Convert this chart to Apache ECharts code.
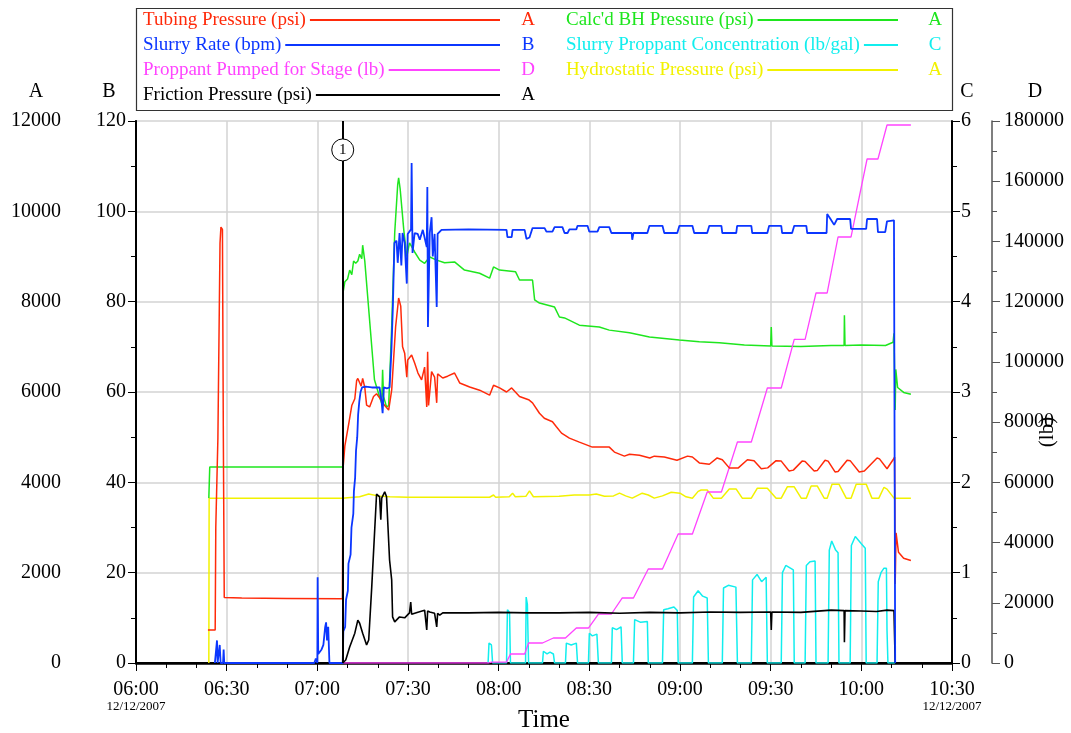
<!DOCTYPE html>
<html>
<head>
<meta charset="utf-8">
<script src="https://cdn.jsdelivr.net/npm/echarts@6/dist/echarts.min.js"></script>
<style>
html,body{margin:0;padding:0;background:#fff;}
#chart{width:1071px;height:733px;}
</style>
</head>
<body>
<div id="chart"></div>
<script>
// Time values are minutes after 06:00 on 12/12/2007
const xTickMinutes = [0, 30, 60, 90, 120, 150, 180, 210, 240, 270];
const dateLabel = '12/12/2007';

// Tubing Pressure (psi) – axis A
const tubingPressure = [
 [23.8,730],[26.2,730],[26.4,3000],[26.8,3000],[27.1,4980],[27.4,5000],[27.8,9300],[28.1,9650],[28.6,9600],[28.9,5000],[29.2,1450],
 [35,1440],[50,1430],[68.3,1420],[68.5,4300],[69.1,4800],[70.4,5300],[71.4,5700],[72.4,5850],[73.0,6250],[73.4,6300],[74.0,6290],
 [74.5,6130],[75.0,6300],[75.7,6100],[76.3,5710],[77.3,5670],[78.6,5900],[79.6,5960],[80.6,5870],[82.3,5700],[83.6,5600],[84.6,6040],
 [85.9,7440],[86.9,8080],[87.6,7900],[88.2,7000],[88.9,6860],[89.6,6330],[89.9,6710],[91.2,6820],[92.2,6640],[93.3,6420],[94.5,6270],
 [95.5,6550],[96.2,5670],[96.5,6890],[96.8,5700],[97.8,6450],[98.8,6330],[99.5,5760],[99.8,6400],[101.5,6310],[103.1,6350],[105.4,6420],
 [107.1,6200],[110.4,6110],[113.7,6040],[117.0,5930],[118.3,6150],[120.3,6090],[122.6,6000],[124.3,6090],[126.9,5900],[129.9,5830],
 [131.2,5760],[133.5,5530],[135.1,5420],[137.8,5340],[139.1,5230],[140.8,5090],[143.4,4980],[146.7,4890],[151.0,4780],[156.6,4780],
 [158.3,4670],[161.6,4580],[163.3,4620],[166.6,4600],[170.0,4540],[171.5,4580],[174.8,4560],[179.0,4490],[182.5,4580],[184.1,4560],
 [186.4,4430],[189.7,4400],[192.3,4540],[194.0,4500],[196.3,4320],[199.3,4320],[202.3,4500],[204.5,4480],[206.9,4300],[209.0,4320],
 [211.8,4480],[213.5,4470],[216.1,4250],[217.5,4270],[220.4,4470],[221.4,4460],[224.4,4250],[225.4,4260],[228.0,4490],[229.0,4470],
 [231.3,4230],[232.3,4240],[235.3,4490],[236.3,4480],[239.3,4230],[241.0,4250],[245.2,4540],[246.0,4520],[248.5,4300],[250.5,4500],
 [251.0,4560],[251.2,1750],[251.5,2880],[252.3,2450],[254.0,2320],[256.4,2270]
];

// Slurry Rate (bpm) – axis B
const slurryRate = [
 [26.1,0],[26.8,5],[27.0,0],[27.4,0],[27.7,4],[28.0,0],[28.8,0],[29.0,3],[29.2,0],[59.0,0],[59.5,1],[60.0,0],[60.1,19],[60.3,2],
 [60.8,2],[61.4,3],[62.0,4],[62.6,8],[62.9,9],[63.2,5],[63.6,8],[64.0,0],[68.4,0],[68.6,7],[69.2,8],[69.5,14],[70.1,16],[70.3,22],
 [71.0,24],[71.3,30],[71.9,33],[72.1,38],[72.5,41],[72.8,47],[73.2,50],[73.5,55],[73.9,58],[74.3,60],[74.8,61],[76,61.2],[78,61],
 [80.6,61],[81.3,57.6],[81.6,55.3],[82.0,61],[83,60.8],[83.9,61],[84.5,69],[85.0,79],[85.5,93],[86.2,93.5],[86.6,88.6],[87.2,95.2],
 [87.8,88],[88.2,95.2],[88.9,93],[89.6,84],[89.9,95],[91.0,96],[91.2,110.7],[91.5,90.8],[92.2,95.2],[93.2,95],[93.9,93.7],[94.9,95.9],
 [96.2,92.1],[96.4,105.4],[96.6,74.4],[97.2,95.2],[97.8,98.7],[98.2,90],[98.8,95],[99.5,78.8],[99.8,95],[101.1,95.9],[110,96],
 [122.6,95.9],[122.9,94.3],[124.3,94.3],[124.6,95.9],[128.6,95.9],[129.2,93.9],[130.2,94.2],[131.2,96.3],[135.2,96.3],[135.8,95.5],
 [137.8,95.5],[138.5,96.5],[141.1,96.5],[141.8,95.2],[142.8,95.2],[143.4,96.0],[145.7,96.0],[146.1,96.8],[149.4,96.8],[150.0,95.5],
 [152.7,95.5],[153.3,96.5],[156.6,96.5],[157.3,95.2],[164.0,95.2],[164.2,93.7],[164.6,95.2],[169.2,95.2],[169.9,96.8],[174.2,96.8],
 [174.8,95.2],[179.1,95.2],[179.8,96.8],[184.1,96.8],[184.7,95.2],[189.0,95.2],[189.7,96.8],[193.7,96.8],[194.0,95.2],[198.6,95.2],
 [198.9,96.8],[203.6,96.8],[203.9,95.2],[208.9,95.2],[209.5,96.8],[213.5,96.8],[213.8,95.2],[217.1,95.2],[217.8,96.8],[221.8,96.8],
 [222.1,95.2],[228.5,95.2],[228.7,99.4],[229.8,98.3],[231.0,97.0],[232.0,98.3],[236.3,98.3],[236.6,96.1],[241.6,96.1],[241.9,98.3],
 [245.2,98.3],[245.5,95.4],[247.9,95.4],[248.5,97.8],[250.8,98.0],[251.2,0]
];

// Proppant Pumped for Stage (lb) – axis D
const proppantPumped = [
 [68.4,0],[116.7,0],[117.6,300],[122.6,300],[123.9,2990],[128.6,2990],[129.9,6640],[134.5,6640],[138.1,8300],[142.1,8300],
 [145.7,11620],[149.7,11620],[153.0,16270],[157.3,16270],[160.9,21590],[164.6,21590],[169.5,31220],[174.2,31220],[179.4,42840],
 [184.1,42840],[189.0,56790],[193.7,56790],[199.0,73400],[203.6,73400],[208.9,91330],[213.5,91330],[217.8,107500],[221.4,107500],
 [225.0,122880],[228.7,122880],[232.3,141480],[236.6,141480],[241.9,167380],[245.5,167380],[248.5,178670],[256.4,178670]
];

// Friction Pressure (psi) – axis A
const frictionPressure = [
 [68.4,0],[69.4,66],[70.7,354],[72.4,660],[73.4,950],[74.0,880],[75.0,660],[76.3,400],[77.0,510],[78.0,1680],[79.6,3740],[80.6,3680],
 [81.0,3170],[81.3,3650],[82.3,3790],[82.9,3680],[83.9,2280],[84.6,1840],[84.9,1020],[85.6,910],[87.2,1020],[88.9,1000],[90.5,1110],
 [90.9,1350],[91.2,1080],[93,1120],[95.5,1170],[96.2,730],[96.5,1150],[97.2,1130],[98.8,1100],[99.5,800],[99.8,1100],[100.5,1060],
 [101.5,1110],[110,1110],[120,1120],[130,1110],[140,1110],[150,1120],[160,1100],[170,1120],[180,1110],[190,1130],[200,1120],[210,1130],
 [210.2,730],[210.4,1130],[220,1120],[230,1170],[234.3,1160],[234.4,460],[234.6,1160],[240,1150],[245,1140],[248.5,1170],[250.8,1160],
 [251.2,0]
];

// Calc'd BH Pressure (psi) – axis A
const bhPressure = [
 [24.1,3650],[24.4,4340],[68.4,4340],[68.5,8200],[69.1,8440],[70.0,8500],[70.7,8700],[71.4,8600],[72.0,8900],[72.7,8850],[73.4,8900],
 [74.0,9050],[74.7,8950],[75.0,9250],[75.7,8900],[76.3,8920],[78.9,6270],[80.6,5890],[81.3,5750],[81.6,6490],[81.9,5900],[82.9,5670],
 [83.6,5700],[84.6,7440],[85.6,9520],[86.6,10600],[86.9,10740],[87.4,10500],[88.6,9590],[89.6,9000],[90.5,9300],[92.2,9100],[93.9,8920],
 [95.5,8850],[97.2,8990],[99.5,8920],[102.1,8860],[105.4,8880],[108.7,8700],[113.7,8630],[117,8520],[118.3,8770],[120.3,8700],
 [125.6,8660],[126.9,8480],[131.2,8480],[131.9,8040],[133.5,7970],[138.5,7880],[140.1,7660],[141.8,7640],[146.7,7480],[153.3,7440],
 [156.6,7370],[163.3,7310],[169.9,7220],[179.8,7150],[186.4,7110],[193,7090],[201.3,7040],[210,7020],[210.2,7440],[210.4,7020],
 [220,7010],[230,7030],[234.3,7030],[234.4,7700],[234.6,7030],[240,7040],[248,7030],[250.5,7100],[250.8,7300],[251.2,5600],
 [251.4,6500],[252,6100],[254,5990],[256.4,5950]
];

// Slurry Proppant Concentration (lb/gal) – axis C
const slurryConc = [
 [116.5,0],[116.8,0.22],[117.6,0.2],[118.0,0],[122.6,0],[122.9,0.59],[123.6,0.56],[123.9,0],[128.9,0],[129.1,0.73],[129.5,0.65],[129.9,0],
 [134.5,0],[134.8,0.13],[136,0.1],[137,0.12],[138.1,0.1],[138.5,0],[142.1,0],[142.4,0.22],[144,0.2],[145.7,0.22],[146.1,0],
 [149.7,0],[150.0,0.33],[151,0.3],[152.5,0.32],[153.0,0],[157.3,0],[157.6,0.39],[159,0.37],[160.5,0.4],[160.9,0],
 [164.6,0],[165,0.48],[167,0.45],[169.2,0.46],[169.5,0],[174.2,0],[174.6,0.59],[176,0.6],[178,0.62],[179.1,0.58],[179.4,0],
 [184.1,0],[184.5,0.73],[186,0.8],[187.5,0.74],[189,0.72],[189.4,0],[194,0],[194.4,0.83],[196,0.86],[198.5,0.84],[199,0],
 [203.6,0],[204,0.92],[205.5,0.98],[207,0.9],[208.5,0.95],[208.9,0],[213.5,0],[213.9,1.0],[215,1.08],[217.5,1.03],[217.8,0],
 [221.4,0],[221.8,1.08],[223,1.12],[224.7,1.13],[225.0,0],[229,0],[229.4,1.25],[230.2,1.35],[231.5,1.25],[232.3,1.22],[232.6,0],
 [236.3,0],[236.7,1.3],[238,1.4],[240,1.32],[241.3,1.27],[241.6,0],[245.2,0],[245.6,0.9],[246.5,1.0],[247.5,1.05],[248.3,1.05],
 [248.5,0.36],[248.8,0],[251.2,0]
];

// Hydrostatic Pressure (psi) – axis A
const hydrostatic = [
 [24.1,0],[24.2,3650],[68.4,3650],[70,3660],[74,3680],[77,3740],[80,3700],[84,3680],[90,3670],[117,3670],[118.3,3720],[119,3670],
 [123.5,3680],[124.6,3760],[125.5,3680],[129,3690],[130.2,3810],[131.5,3680],[140,3690],[145,3720],[150,3720],[152.3,3740],[155,3690],
 [158,3700],[160,3760],[162,3700],[164.2,3650],[167.5,3760],[169.5,3720],[171.5,3650],[174.2,3700],[177.1,3780],[180,3760],[182,3680],
 [184.1,3650],[186,3800],[187.0,3830],[189.0,3830],[191,3650],[193.7,3650],[196.3,3850],[198.6,3850],[200.6,3650],[203.6,3650],
 [205.6,3870],[208.9,3870],[211.8,3650],[213.5,3650],[215.5,3900],[217.8,3900],[220.1,3650],[221.8,3650],[223.4,3920],[225.4,3920],
 [227.7,3650],[228.7,3650],[230.3,3960],[232.6,3960],[235,3650],[236.6,3650],[238.3,3960],[241.6,3960],[243.5,3650],[245.8,3650],
 [247.5,3890],[248.5,3850],[250.8,3650],[256.4,3650]
];

// Event marker
const eventMarkers = [{ time: 68.4, label: '1', level: 11360 }];

// Legend names, axis letters
const legendCol1 = ['Tubing Pressure (psi)', 'Slurry Rate (bpm)', 'Proppant Pumped for Stage (lb)', 'Friction Pressure (psi)'];
const legendCol1Axis = ['A', 'B', 'D', 'A'];
const legendCol2 = ["Calc'd BH Pressure (psi)", 'Slurry Proppant Concentration (lb/gal)', 'Hydrostatic Pressure (psi)'];
const legendCol2Axis = ['A', 'C', 'A'];
const axisLetters = ['A', 'B', 'C', 'D'];
const axisDUnit = '(lb)';

const COL = {
  red: '#ff2a0a', blue: '#0b36ff', pink: '#ff44ff', black: '#000000',
  green: '#1ee61e', cyan: '#11eeee', yellow: '#f2f200'
};
const col1Colors = [COL.red, COL.blue, COL.pink, COL.black];
const col2Colors = [COL.green, COL.cyan, COL.yellow];

const FONT = "'Liberation Serif', 'Times New Roman', serif";
const LEG_FS = 19;

function fmtTime(v) {
  const h = 6 + Math.floor(v / 60), m = Math.round(v % 60);
  return (h < 10 ? '0' : '') + h + ':' + (m < 10 ? '0' : '') + m;
}

const chart = echarts.init(document.getElementById('chart'), null, { renderer: 'canvas' });

// measure text for legend layout
const mctx = document.createElement('canvas').getContext('2d');
mctx.font = LEG_FS + "px 'Liberation Serif'";
function tw(s) { return mctx.measureText(s).width; }

const graphics = [];
graphics.push({ type: 'rect', shape: { x: 136.5, y: 8.5, width: 816, height: 102 },
  style: { fill: '#fff', stroke: '#333', lineWidth: 1.2 }, z: 0 });
function legendRow(text, color, letter, x, lineEnd, letterX, y) {
  graphics.push({ type: 'text', x: x, y: y, style: { text: text, fill: color, font: LEG_FS + "px " + FONT, textVerticalAlign: 'middle', textAlign: 'left' } });
  graphics.push({ type: 'line', shape: { x1: x + tw(text) + 4, y1: y, x2: lineEnd, y2: y }, style: { stroke: color, lineWidth: 2 } });
  graphics.push({ type: 'text', x: letterX, y: y, style: { text: letter, fill: color, font: LEG_FS + "px " + FONT, textVerticalAlign: 'middle', textAlign: 'center' } });
}
legendCol1.forEach((n, i) => legendRow(n, col1Colors[i], legendCol1Axis[i], 143, 500, 528, 20 + 25 * i));
legendCol2.forEach((n, i) => legendRow(n, col2Colors[i], legendCol2Axis[i], 566, 898, 935, 20 + 25 * i));
// axis letters above each value axis
[36, 109, 967, 1035].forEach((x, i) => graphics.push({ type: 'text', x: x, y: 92,
  style: { text: axisLetters[i], fill: '#000', font: "20px " + FONT, textAlign: 'center', textVerticalAlign: 'middle' } }));
graphics.push({ type: 'text', x: 1047, y: 432, rotation: Math.PI / 2,
  style: { text: axisDUnit, fill: '#000', font: "21px " + FONT, textAlign: 'center', textVerticalAlign: 'middle' } });

function yAx(opts) {
  return Object.assign({
    type: 'value',
    axisLine: { show: true, lineStyle: { color: '#000', width: 2 } },
    axisTick: { show: true, length: 8, lineStyle: { color: '#000', width: 1 } },
    minorTick: { show: true, splitNumber: 2, length: 5, lineStyle: { color: '#000' } },
    axisLabel: { color: '#000', fontFamily: FONT, fontSize: 20, margin: 10, formatter: v => String(v) },
    splitLine: { show: false }
  }, opts);
}

const lineSeries = (name, data, color, yIdx, width, z) => ({
  name, type: 'line', data, xAxisIndex: 0, yAxisIndex: yIdx, showSymbol: false, symbol: 'none',
  lineStyle: { color, width: width || 1.5 }, itemStyle: { color }, z: z || 2, animation: false
});

const option = {
  animation: false,
  backgroundColor: '#fff',
  grid: { left: 136, right: 119, top: 121, bottom: 70, containLabel: false, outerBoundsMode: 'none' },
  graphic: graphics,
  xAxis: [
    {
      type: 'value', min: 0, max: 270, interval: 30, position: 'bottom',
      name: 'Time', nameLocation: 'middle', nameGap: 57, nameMoveOverlap: false,
      nameTextStyle: { fontFamily: FONT, fontSize: 25, color: '#000', verticalAlign: 'middle' },
      axisLine: { lineStyle: { color: '#000', width: 2 } },
      axisTick: { length: 8, lineStyle: { color: '#000' } },
      minorTick: { show: true, splitNumber: 3, length: 5, lineStyle: { color: '#000' } },
      axisLabel: {
        margin: 17, color: '#000', fontFamily: FONT, verticalAlign: 'top',
        formatter: v => (v === xTickMinutes[0] || v === xTickMinutes[xTickMinutes.length - 1])
          ? '{t|' + fmtTime(v) + '}\n{d|' + dateLabel + '}' : '{t|' + fmtTime(v) + '}',
        rich: { t: { fontSize: 20, fontFamily: FONT, lineHeight: 20, color: '#000' },
                d: { fontSize: 13, fontFamily: FONT, lineHeight: 13, color: '#000' } }
      },
      splitLine: { show: true, lineStyle: { color: '#d3d3d3', width: 1.5 } }
    },
    {
      type: 'value', min: 0, max: 270, position: 'top',
      axisLine: { lineStyle: { color: '#000', width: 2.5 } },
      axisTick: { show: false }, axisLabel: { show: false }, splitLine: { show: false }
    }
  ],
  yAxis: [
    yAx({ position: 'left', offset: 65, min: 0, max: 12000, interval: 2000,
      axisLine: { show: true, lineStyle: { color: '#000', width: 1.5 } },
      splitLine: { show: true, lineStyle: { color: '#d3d3d3', width: 1.5 } } }),
    yAx({ position: 'left', offset: 0, min: 0, max: 120, interval: 20 }),
    yAx({ position: 'right', offset: 0, min: 0, max: 6, interval: 1,
      axisLabel: { color: '#000', fontFamily: FONT, fontSize: 20, margin: 9, formatter: v => String(v) } }),
    yAx({ position: 'right', offset: 40, min: 0, max: 180000, interval: 20000,
      axisLine: { show: true, lineStyle: { color: '#555', width: 1.5 } },
      axisTick: { show: true, length: 8, lineStyle: { color: '#555' } },
      minorTick: { show: true, splitNumber: 2, length: 5, lineStyle: { color: '#555' } },
      axisLabel: { color: '#000', fontFamily: FONT, fontSize: 20, margin: 12, formatter: v => String(v) } })
  ],
  series: [
    lineSeries("Hydrostatic Pressure (psi)", hydrostatic, COL.yellow, 0, 1.5, 2),
    lineSeries("Slurry Proppant Concentration (lb/gal)", slurryConc, COL.cyan, 2, 1.5, 2),
    lineSeries("Calc'd BH Pressure (psi)", bhPressure, COL.green, 0, 1.5, 3),
    lineSeries("Proppant Pumped for Stage (lb)", proppantPumped, COL.pink, 3, 1.3, 3),
    lineSeries("Friction Pressure (psi)", frictionPressure, COL.black, 0, 1.6, 3),
    lineSeries("Tubing Pressure (psi)", tubingPressure, COL.red, 0, 1.5, 4),
    lineSeries("Slurry Rate (bpm)", slurryRate, COL.blue, 1, 1.8, 4),
    {
      name: 'events', type: 'line', data: [], xAxisIndex: 0, yAxisIndex: 0, z: 6,
      markLine: { silent: true, symbol: 'none', animation: false,
        lineStyle: { color: '#000', width: 2, type: 'solid' }, label: { show: false },
        data: eventMarkers.map(e => ({ xAxis: e.time })) },
      markPoint: { silent: true, animation: false, symbol: 'circle', symbolSize: 22,
        itemStyle: { color: '#fff', borderColor: '#000', borderWidth: 1 },
        label: { show: true, color: '#000', fontFamily: FONT, fontSize: 15, formatter: p => p.name },
        data: eventMarkers.map(e => ({ name: e.label, coord: [e.time, e.level] })) }
    }
  ]
};
chart.setOption(option);
</script>
</body>
</html>
